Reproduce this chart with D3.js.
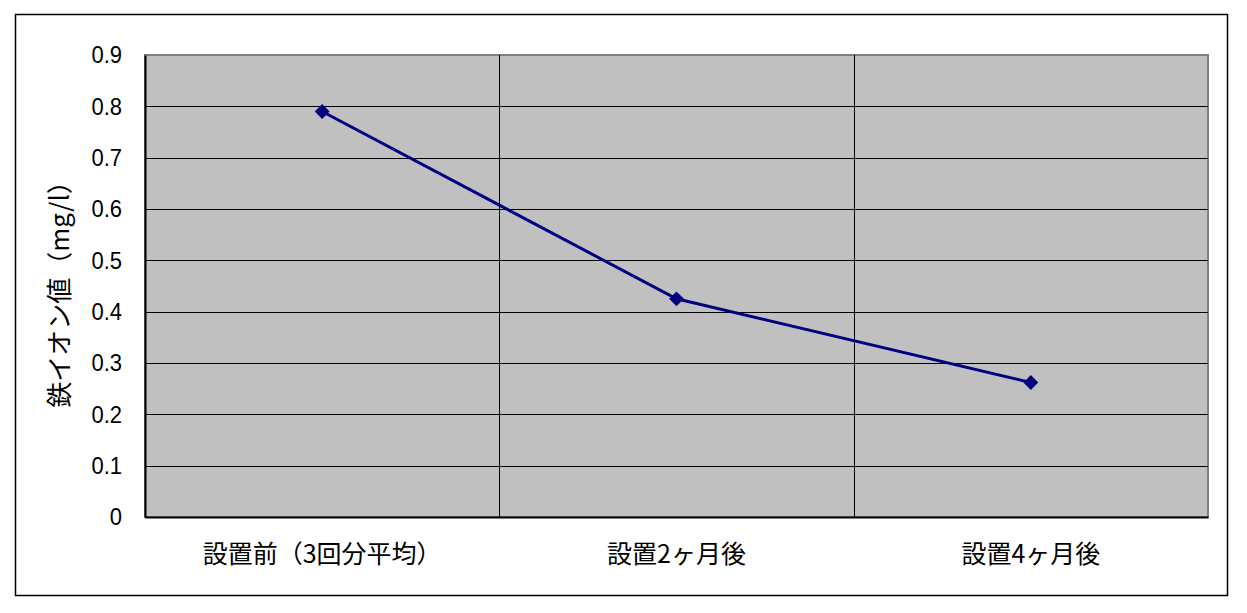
<!DOCTYPE html>
<html>
<head>
<meta charset="utf-8">
<script src="https://cdn.jsdelivr.net/npm/d3@7"></script>
<style>
  body { margin: 0; background: #fff; }
</style>
</head>
<body>
<div id="chart"></div>
<script>
// Data
const categories = ["設置前（3回分平均）", "設置2ヶ月後", "設置4ヶ月後"];
const ironValues = [0.79, 0.425, 0.262];
const yTicks = [0, 0.1, 0.2, 0.3, 0.4, 0.5, 0.6, 0.7, 0.8, 0.9];

const width = 1247;
const height = 613;
const plot = { left: 145, right: 1208, top: 55, bottom: 517 };
const jpFont = "'Noto Sans CJK JP', sans-serif";
const numFont = "'Liberation Sans', Arial, sans-serif";

const svg = d3.select("#chart")
  .append("svg")
    .attr("width", width)
    .attr("height", height);

// Outer chart border
svg.append("rect")
    .attr("x", 15.5)
    .attr("y", 14.5)
    .attr("width", 1212)
    .attr("height", 581)
    .attr("fill", "#fff")
    .attr("stroke", "#000")
    .attr("stroke-width", 1.5);

const x = d3.scaleBand()
    .domain(categories)
    .range([plot.left, plot.right]);

const y = d3.scaleLinear()
    .domain([0, 0.9])
    .range([plot.bottom, plot.top]);

// Plot area
svg.append("rect")
    .attr("x", plot.left)
    .attr("y", plot.top)
    .attr("width", plot.right - plot.left)
    .attr("height", plot.bottom - plot.top)
    .attr("fill", "#c0c0c0")
    .attr("stroke", "#808080")
    .attr("stroke-width", 2);

// Horizontal gridlines
svg.append("g")
  .selectAll("line")
  .data(yTicks.filter(d => d > 0 && d < 0.9))
  .join("line")
    .attr("x1", plot.left)
    .attr("x2", plot.right)
    .attr("y1", d => Math.round(y(d)) + 0.5)
    .attr("y2", d => Math.round(y(d)) + 0.5)
    .attr("stroke", "#000")
    .attr("stroke-width", 1);

// Vertical category dividers
svg.append("g")
  .selectAll("line")
  .data(categories.slice(1))
  .join("line")
    .attr("x1", d => Math.round(x(d)) + 0.5)
    .attr("x2", d => Math.round(x(d)) + 0.5)
    .attr("y1", plot.top)
    .attr("y2", plot.bottom)
    .attr("stroke", "#000")
    .attr("stroke-width", 1);

// Y axis
const yAxis = svg.append("g")
    .attr("transform", `translate(${plot.left},0)`)
    .call(d3.axisLeft(y).tickValues(yTicks).tickFormat(d => d === 0 ? "0" : d3.format(".1f")(d)).tickSize(0).tickPadding(23));
yAxis.select(".domain").attr("stroke", "#000").attr("stroke-width", 2);
yAxis.selectAll(".tick text")
    .attr("font-family", numFont)
    .attr("font-size", 22)
    .attr("fill", "#000")
    .style("transform-box", "fill-box")
    .style("transform-origin", "center")
    .style("transform", "scaleY(1.12)");

// X axis
const xAxis = svg.append("g")
    .attr("transform", `translate(0,${plot.bottom})`)
    .call(d3.axisBottom(x).tickSize(0).tickPadding(28));
xAxis.select(".domain").attr("stroke", "#000").attr("stroke-width", 2);
xAxis.selectAll("text")
    .attr("font-family", jpFont)
    .attr("font-size", 25)
    .attr("fill", "#000");

// Y axis title
svg.append("text")
    .attr("transform", "translate(69,288) rotate(-90)")
    .attr("text-anchor", "middle")
    .attr("font-family", jpFont)
    .attr("font-size", 26)
    .attr("fill", "#000")
    .text("鉄イオン値（mg/l）");

// Line
const line = d3.line()
    .x((d, i) => x(categories[i]) + x.bandwidth() / 2)
    .y(d => y(d));

svg.append("path")
    .datum(ironValues)
    .attr("fill", "none")
    .attr("stroke", "#000080")
    .attr("stroke-width", 3)
    .attr("d", line);

// Diamond markers
svg.append("g")
  .selectAll("path")
  .data(ironValues)
  .join("path")
    .attr("transform", (d, i) => `translate(${x(categories[i]) + x.bandwidth() / 2},${y(d)}) rotate(45)`)
    .attr("d", d3.symbol(d3.symbolSquare, 110))
    .attr("fill", "#000080");
</script>
</body>
</html>
